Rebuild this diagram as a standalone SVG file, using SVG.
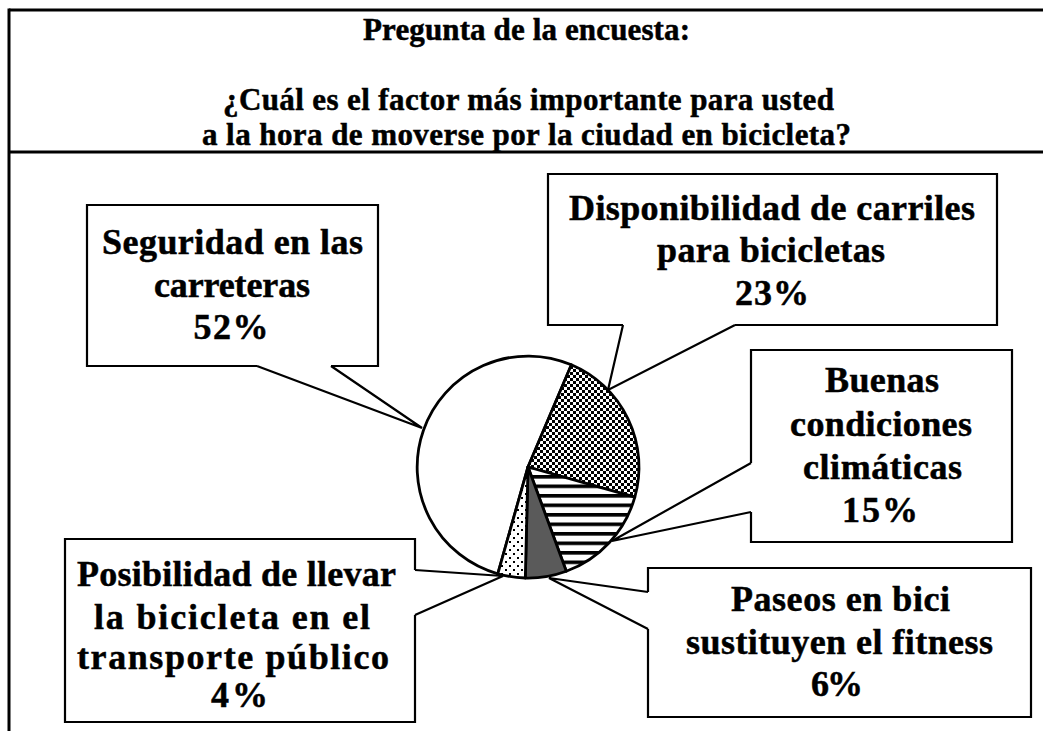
<svg xmlns="http://www.w3.org/2000/svg" width="1043" height="731" viewBox="0 0 1043 731">
<style>
text{font-family:"Liberation Serif","Times New Roman",serif;font-weight:bold;fill:#000;stroke:#000;stroke-width:0.5;text-anchor:middle}
.t{font-size:31px}
.c{font-size:36px}
.frame{stroke:#000;stroke-width:3;fill:none}
.box{stroke:#000;stroke-width:2.2;fill:none;stroke-linejoin:miter}
.tail{stroke:#000;stroke-width:2.2;fill:none;stroke-linejoin:miter}
.sl{stroke:#000;stroke-width:2.8;stroke-linejoin:round}
</style>
<defs>
<pattern id="chk" patternUnits="userSpaceOnUse" width="6" height="6">
<rect width="6" height="6" fill="#fff"/>
<rect width="3" height="3" fill="#000"/>
<rect x="3" y="3" width="3" height="3" fill="#000"/>
</pattern>
<pattern id="hst" patternUnits="userSpaceOnUse" width="10" height="9.5">
<rect width="10" height="9.5" fill="#fff"/>
<rect y="0" width="10" height="3.6" fill="#000"/>
</pattern>
<pattern id="dot" patternUnits="userSpaceOnUse" width="8" height="8">
<rect width="8" height="8" fill="#fff"/>
<rect x="1" y="1" width="2" height="2" fill="#000"/>
<rect x="5" y="5" width="2" height="2" fill="#000"/>
</pattern>
</defs>
<rect width="1043" height="731" fill="#fff"/>
<g id="frame">
<line class="frame" x1="9" y1="10" x2="1043" y2="10"/>
<line class="frame" x1="9" y1="152" x2="1043" y2="152"/>
<line class="frame" x1="9" y1="8.5" x2="9" y2="731"/>
</g>
<g id="title">
<text class="t" x="526.5" y="40" textLength="327">Pregunta de la encuesta:</text>
<text class="t" x="528.5" y="110" textLength="611">¿Cuál es el factor más importante para usted</text>
<text class="t" x="526.5" y="145" textLength="649">a la hora de moverse por la ciudad en bicicleta?</text>
</g>
<g id="pie">
<path class="sl" fill="#fff" d="M528,467 L497.8,573.8 A111,111 0 1 1 571.4,364.8 Z"/>
<path class="sl" fill="url(#chk)" d="M528,467 L571.4,364.8 A111,111 0 0 1 634.8,497.2 Z"/>
<path class="sl" fill="url(#hst)" d="M528,467 L634.8,497.2 A111,111 0 0 1 566.3,571.2 Z"/>
<path class="sl" fill="#5a5a5a" d="M528,467 L566.3,571.2 A111,111 0 0 1 525.3,578 Z"/>
<path class="sl" fill="url(#dot)" d="M528,467 L525.3,578 A111,111 0 0 1 497.8,573.8 Z"/>
</g>
<g id="connectors">
<polyline class="tail" points="257,366 422,428 331,366"/>
<polyline class="tail" points="623,325 608,390 735,325"/>
<polyline class="tail" points="751,463 612,541 751,512"/>
<polyline class="tail" points="415,570 503,576 415,615"/>
<polyline class="tail" points="648,592 549,578 648,629"/>
</g>
<g id="seguridad">
<path class="box" d="M257,366 L87,366 L87,205 L378,205 L378,366 L331,366"/>
<text class="c" x="232.5" y="254" textLength="261">Seguridad en las</text>
<text class="c" x="232" y="297" textLength="156">carreteras</text>
<text class="c" x="231" y="339" textLength="75">52%</text>
</g>
<g id="disponibilidad">
<path class="box" d="M623,325 L548,325 L548,174 L997,174 L997,325 L735,325"/>
<text class="c" x="772" y="220" textLength="406">Disponibilidad de carriles</text>
<text class="c" x="771" y="262" textLength="228">para bicicletas</text>
<text class="c" x="772" y="305" textLength="74">23%</text>
</g>
<g id="buenas">
<path class="box" d="M751,463 L751,350 L1012,350 L1012,542 L751,542 L751,512"/>
<text class="c" x="882" y="392" textLength="114">Buenas</text>
<text class="c" x="881" y="436" textLength="182">condiciones</text>
<text class="c" x="882.5" y="479" textLength="159">climáticas</text>
<text class="c" x="880" y="522" textLength="76">15%</text>
</g>
<g id="posibilidad">
<path class="box" d="M415,570 L415,539 L65,539 L65,722 L415,722 L415,615"/>
<text class="c" x="236.5" y="586" textLength="319">Posibilidad de llevar</text>
<text class="c" x="232" y="629" textLength="276">la bicicleta en el</text>
<text class="c" x="233" y="669" textLength="312">transporte público</text>
<text class="c" x="239.5" y="707" textLength="57">4%</text>
</g>
<g id="paseos">
<path class="box" d="M648,592 L648,568 L1031,568 L1031,717 L648,717 L648,629"/>
<text class="c" x="840.5" y="611" textLength="219">Paseos en bici</text>
<text class="c" x="839.5" y="654" textLength="307">sustituyen el fitness</text>
<text class="c" x="837" y="696" textLength="52">6%</text>
</g>
</svg>
